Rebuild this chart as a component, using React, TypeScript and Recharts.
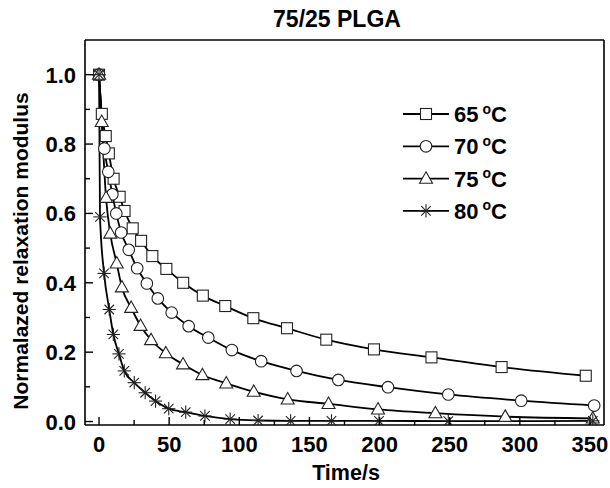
import React from 'react';
import { LineChart, Line, XAxis, YAxis, Customized, ReferenceLine } from 'recharts';

const FONT = "'Liberation Sans', Arial, Helvetica, sans-serif";

const title = '75/25 PLGA';
const xLabel = 'Time/s';
const yLabel = 'Normalazed relaxation modulus';
const seriesNames = ['65', '70', '75', '80'];

const xTicks = [0, 25, 50, 75, 100, 125, 150, 175, 200, 225, 250, 275, 300, 325, 350];
const yTicks = [0, 0.1, 0.2, 0.3, 0.4, 0.5, 0.6, 0.7, 0.8, 0.9, 1.0];
const xDomain = [-10, 360];
const yDomain = [-0.01, 1.1];

const t65 = [0, 2, 4.8, 7, 10.4, 14.7, 18.2, 24, 30, 38, 48, 60, 74, 90, 110, 134, 162, 196, 237, 287, 347];
const v65 = [1.0, 0.887, 0.823, 0.773, 0.7, 0.648, 0.607, 0.557, 0.521, 0.477, 0.44, 0.4, 0.363, 0.333, 0.298, 0.269, 0.236, 0.208, 0.185, 0.157, 0.132];

const t70 = [0, 3.8, 6.6, 9.5, 12.3, 15.8, 21.2, 27.2, 34.1, 41.9, 51.8, 63.9, 77.9, 94.7, 115.6, 140.8, 170.6, 206, 249, 301, 353];
const v70 = [1.0, 0.787, 0.72, 0.655, 0.6, 0.545, 0.495, 0.442, 0.398, 0.355, 0.314, 0.275, 0.242, 0.206, 0.174, 0.146, 0.12, 0.099, 0.078, 0.06, 0.046];

const t75 = [0, 1.9, 5, 8, 12.6, 16.3, 22.9, 29.6, 37.1, 47.6, 59.9, 73.7, 90.7, 110.3, 134.5, 163.6, 198.9, 239.8, 289.6, 352];
const v75 = [1.0, 0.864, 0.645, 0.542, 0.456, 0.387, 0.328, 0.276, 0.235, 0.197, 0.165, 0.134, 0.11, 0.086, 0.064, 0.051, 0.035, 0.024, 0.014, 0.009];

const t80 = [0, 0.7, 3.6, 7.3, 10.2, 14.2, 18, 25.1, 32.9, 40.3, 49.7, 61.8, 75.5, 93.5, 113.4, 136.6, 165.7, 199.6, 249, 352];
const v80 = [1.0, 0.59, 0.427, 0.323, 0.251, 0.195, 0.146, 0.112, 0.083, 0.059, 0.037, 0.027, 0.016, 0.007, 0.003, 0.002, 0.002, 0.002, 0.001, 0.002];

const zip = (ts: number[], vs: number[]) => ts.map((t, i) => ({ t, v: vs[i] }));
const data65 = zip(t65, v65);
const data70 = zip(t70, v70);
const data75 = zip(t75, v75);
const data80 = zip(t80, v80);

const MK = '#222';

type Shape = 'square' | 'circle' | 'triangle' | 'star';

function Marker({ cx, cy, shape }: { cx: number; cy: number; shape: Shape }) {
  if (cx == null || cy == null || isNaN(cx) || isNaN(cy)) return null;
  if (shape === 'square') {
    return <rect x={cx - 5.5} y={cy - 5.5} width={11} height={11} fill="#fff" stroke={MK} strokeWidth={1.1} />;
  }
  if (shape === 'circle') {
    return <circle cx={cx} cy={cy} r={5.8} fill="#fff" stroke={MK} strokeWidth={1.1} />;
  }
  if (shape === 'triangle') {
    return (
      <polygon
        points={`${cx},${cy - 6.8} ${cx + 6.5},${cy + 4.6} ${cx - 6.5},${cy + 4.6}`}
        fill="#fff"
        stroke={MK}
        strokeWidth={1.1}
      />
    );
  }
  const r = 6.6;
  const d = r * 0.72;
  return (
    <g stroke={MK} strokeWidth={1.1}>
      <line x1={cx - r} y1={cy} x2={cx + r} y2={cy} />
      <line x1={cx} y1={cy - r} x2={cx} y2={cy + r} />
      <line x1={cx - d} y1={cy - d} x2={cx + d} y2={cy + d} />
      <line x1={cx - d} y1={cy + d} x2={cx + d} y2={cy - d} />
    </g>
  );
}

const makeDot = (shape: Shape) => (props: any) => (
  <Marker key={`${shape}-${props.index}`} cx={props.cx} cy={props.cy} shape={shape} />
);

const XTick = (props: any) => {
  const { x, y, payload } = props;
  const v = payload.value;
  const major = Math.round(v) % 50 === 0;
  return (
    <g>
      <line x1={x} y1={y} x2={x} y2={y - (major ? 8 : 5)} stroke="#000" strokeWidth={1.4} />
      {major && (
        <text x={x} y={y + 27} textAnchor="middle" fontFamily={FONT} fontWeight="bold" fontSize={22} fill="#000">
          {String(v)}
        </text>
      )}
    </g>
  );
};

const YTick = (props: any) => {
  const { x, y, payload } = props;
  const v = payload.value;
  const major = Math.round(v * 10) % 2 === 0;
  return (
    <g>
      <line x1={x} y1={y} x2={x + (major ? 8 : 5)} y2={y} stroke="#000" strokeWidth={1.4} />
      {major && (
        <text x={x - 9} y={y + 8} textAnchor="end" fontFamily={FONT} fontWeight="bold" fontSize={22} fill="#000">
          {v.toFixed(1)}
        </text>
      )}
    </g>
  );
};

const legendShapes: Shape[] = ['square', 'circle', 'triangle', 'star'];

const Overlay = () => (
  <g>
    <text x={337} y={26.5} textAnchor="middle" fontFamily={FONT} fontWeight="bold" fontSize={23} fill="#000">
      {title}
    </text>
    <text x={346} y={479.5} textAnchor="middle" fontFamily={FONT} fontWeight="bold" fontSize={21.5} fill="#000">
      {xLabel}
    </text>
    <text
      x={0}
      y={0}
      transform="translate(28,251) rotate(-90)"
      textAnchor="middle"
      fontFamily={FONT}
      fontWeight="bold"
      fontSize={21}
      fill="#000"
    >
      {yLabel}
    </text>
    {seriesNames.map((name, i) => {
      const cy = 114 + i * 32.3;
      return (
        <g key={name}>
          <line x1={403} y1={cy} x2={449} y2={cy} stroke="#000" strokeWidth={1.8} />
          <Marker cx={426} cy={cy} shape={legendShapes[i]} />
          <text x={454} y={cy + 8} fontFamily={FONT} fontWeight="bold" fontSize={22} fill="#000">
            {name}
            <tspan dx={4} dy={-8.5} fontSize={14}>o</tspan>
            <tspan dy={8.5}>C</tspan>
          </text>
        </g>
      );
    })}
  </g>
);

export default function App() {
  return (
    <div style={{ position: 'absolute', left: 0, top: 0, width: 610, height: 488, background: '#fff' }}>
      <LineChart width={610} height={488} margin={{ top: 40, right: 6, bottom: 0, left: 0 }}>
        <XAxis
          type="number"
          dataKey="t"
          domain={xDomain}
          ticks={xTicks}
          interval={0}
          allowDataOverflow
          height={63}
          tickSize={0}
          tickMargin={0}
          tickLine={false}
          tick={<XTick />}
          axisLine={{ stroke: '#000', strokeWidth: 1.6 }}
        />
        <YAxis
          type="number"
          domain={yDomain}
          ticks={yTicks}
          interval={0}
          allowDataOverflow
          width={85}
          tickSize={0}
          tickMargin={0}
          tickLine={false}
          tick={<YTick />}
          axisLine={{ stroke: '#000', strokeWidth: 1.6 }}
        />
        <ReferenceLine y={yDomain[1]} stroke="#000" strokeWidth={1.6} ifOverflow="visible" />
        <ReferenceLine x={xDomain[1]} stroke="#000" strokeWidth={1.6} ifOverflow="visible" />
        <Line data={data65} dataKey="v" type="monotone" stroke="#000" strokeWidth={1.8} dot={makeDot('square')} activeDot={false} isAnimationActive={false} />
        <Line data={data70} dataKey="v" type="monotone" stroke="#000" strokeWidth={1.8} dot={makeDot('circle')} activeDot={false} isAnimationActive={false} />
        <Line data={data75} dataKey="v" type="monotone" stroke="#000" strokeWidth={1.8} dot={makeDot('triangle')} activeDot={false} isAnimationActive={false} />
        <Line data={data80} dataKey="v" type="monotone" stroke="#000" strokeWidth={1.8} dot={makeDot('star')} activeDot={false} isAnimationActive={false} />
        <Customized component={Overlay} />
      </LineChart>
    </div>
  );
}
